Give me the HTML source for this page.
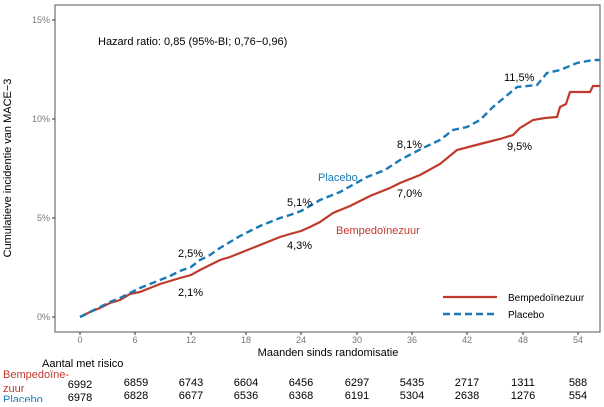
<!DOCTYPE html><html><head><style>body{margin:0;background:#fff}svg{font-family:"Liberation Sans",sans-serif}</style></head><body>
<svg width="604" height="402" viewBox="0 0 604 402">
<rect x="55" y="5" width="545" height="327" fill="none" stroke="#555" stroke-width="1"/>
<g font-size="9" fill="#777" text-anchor="end">
<text x="50" y="23">15%</text><text x="50" y="122">10%</text><text x="50" y="221">5%</text><text x="50" y="320">0%</text></g>
<g stroke="#333"><line x1="52" x2="55" y1="20" y2="20"/><line x1="52" x2="55" y1="119" y2="119"/><line x1="52" x2="55" y1="218" y2="218"/><line x1="52" x2="55" y1="317" y2="317"/>
<line x1="80" x2="80" y1="332" y2="335"/><line x1="135" x2="135" y1="332" y2="335"/><line x1="191" x2="191" y1="332" y2="335"/><line x1="246" x2="246" y1="332" y2="335"/><line x1="301" x2="301" y1="332" y2="335"/><line x1="357" x2="357" y1="332" y2="335"/><line x1="412" x2="412" y1="332" y2="335"/><line x1="467" x2="467" y1="332" y2="335"/><line x1="523" x2="523" y1="332" y2="335"/><line x1="578" x2="578" y1="332" y2="335"/></g>
<g font-size="9" fill="#777" text-anchor="middle"><text x="80" y="343">0</text><text x="135" y="343">6</text><text x="191" y="343">12</text><text x="246" y="343">18</text><text x="301" y="343">24</text><text x="357" y="343">30</text><text x="412" y="343">36</text><text x="467" y="343">42</text><text x="523" y="343">48</text><text x="578" y="343">54</text></g>
<text x="328" y="356" font-size="11" text-anchor="middle">Maanden sinds randomisatie</text>
<text transform="translate(11,168) rotate(-90)" font-size="11" text-anchor="middle">Cumulatieve incidentie van MACE−3</text>
<text x="98" y="45" font-size="11">Hazard ratio: 0,85 (95%-BI; 0,76−0,96)</text>
<polyline fill="none" stroke="#c0392b" stroke-width="2.2" points="80,317 90,312 100,308 110,303 120,300 130,294 140,292 150,288 160,284 170,281 180,278 191,275 200,270 210,265 220,260 230,257 240,253 250,249 260,245 270,241 280,237 290,234 301,231 310,227 320,222 333,213 350,206 370,196 390,188 400,183 420,175 440,164 457,150 480,144 500,139 513,135 520,128 533,120 545,118 557,117 560,107 566,104 570,92 590,92 593,86 600,86"/>
<polyline fill="none" stroke="#1a7ab5" stroke-width="2.4" stroke-dasharray="7,4" points="80,317 90,312 100,307 110,302 120,298 130,293 140,288 150,284 160,280 170,276 180,271 191,267 200,260 210,255 220,248 230,242 240,236 250,231 260,226 270,222 280,218 290,215 301,211 310,206 320,200 340,192 367,177 385,170 400,160 423,148 440,140 453,130 467,127 480,120 493,107 505,97 517,87 537,85 547,73 560,70 577,63 593,60 600,60"/>
<g font-size="11"><text x="178" y="257">2,5%</text><text x="178" y="296">2,1%</text><text x="287" y="206">5,1%</text><text x="287" y="249">4,3%</text><text x="397" y="197">7,0%</text><text x="397" y="148">8,1%</text><text x="507" y="150">9,5%</text><text x="504" y="81">11,5%</text></g>
<text x="318" y="181" font-size="11" fill="#1a7ab5">Placebo</text>
<text x="336" y="234" font-size="11" fill="#c0392b">Bempedoïnezuur</text>
<line x1="443" x2="497" y1="297" y2="297" stroke="#c0392b" stroke-width="2.2"/>
<line x1="443" x2="497" y1="314" y2="314" stroke="#1a7ab5" stroke-width="2.4" stroke-dasharray="7,4"/>
<text x="508" y="301" font-size="10">Bempedoïnezuur</text><text x="508" y="318" font-size="10">Placebo</text>
<text x="42" y="367" font-size="11">Aantal met risico</text>
<text x="3" y="378" font-size="11" fill="#c0392b">Bempedoïne-</text>
<text x="3" y="392" font-size="11" fill="#c0392b">zuur</text>
<text x="3" y="403" font-size="11" fill="#1a7ab5">Placebo</text>
<g font-size="11" text-anchor="middle">
<text x="80" y="388">6992</text><text x="136" y="386">6859</text><text x="191" y="386">6743</text><text x="246" y="386">6604</text><text x="301" y="386">6456</text><text x="357" y="386">6297</text><text x="412" y="386">5435</text><text x="467" y="386">2717</text><text x="523" y="386">1311</text><text x="578" y="386">588</text>
<text x="80" y="401">6978</text><text x="136" y="399">6828</text><text x="191" y="399">6677</text><text x="246" y="399">6536</text><text x="301" y="399">6368</text><text x="357" y="399">6191</text><text x="412" y="399">5304</text><text x="467" y="399">2638</text><text x="523" y="399">1276</text><text x="578" y="399">554</text></g>
</svg></body></html>
